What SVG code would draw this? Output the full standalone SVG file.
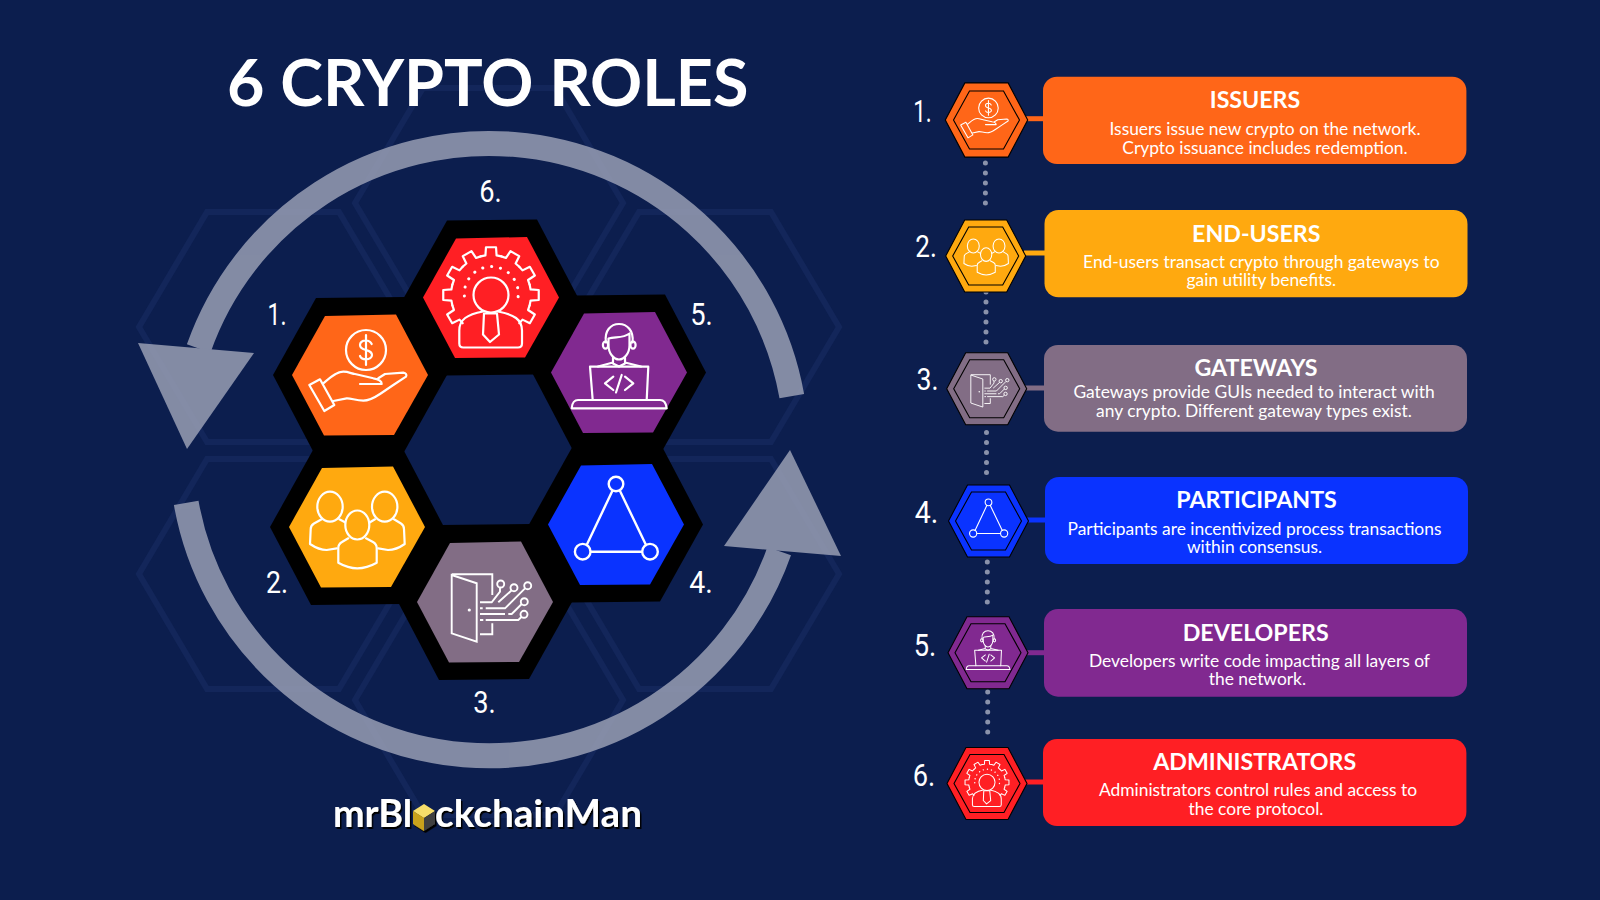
<svg xmlns="http://www.w3.org/2000/svg" xmlns:xlink="http://www.w3.org/1999/xlink" width="1600" height="900" viewBox="0 0 1600 900">
<style>
text{font-family:"Lato","Liberation Sans",sans-serif;fill:#fff}
.title{font-size:64.6px;font-weight:700}
.h{font-size:23.2px;font-weight:700;text-anchor:middle}
.b{font-size:17.4px;text-anchor:middle}
.n{font-family:"Roboto","Liberation Sans",sans-serif;font-size:32px;text-anchor:middle}
.logo{font-size:38px;font-weight:700}
.ic{fill:none;stroke:#fff;stroke-width:2.2;stroke-linecap:round;stroke-linejoin:round}
.bg{fill:none;stroke:#13265A;stroke-width:6}
.dots{fill:none;stroke:#8A92AB;stroke-width:5;stroke-linecap:round;stroke-dasharray:0 10}
.stub{stroke-width:5;fill:none}
.ol{stroke:#000;stroke-width:1.1}
</style>
<defs>
<polygon id="bg-hex" points="-134 0 -66 -115 66 -115 134 0 66 115 -66 115"/>
<polygon id="hex-o" points="-87 0 -44 -77 46 -78 87 0 44 77 -46 78"/>
<polygon id="hex-i" points="-68 0 -35 -59 36 -60.5 68 0 34 60 -36 60.5"/>
<polygon id="hex-s" points="-40 0 -21 -36 21 -36 40 0 21 36 -21 36"/>
<polygon id="hex-si" points="-33 0 -17 -29 17 -29 33 0 17 29 -17 29"/>
<filter id="sh" x="-5%" y="-20%" width="110%" height="140%"><feDropShadow dx="1.5" dy="2" stdDeviation="0.4" flood-color="#000"/></filter>
<g id="i-hand" class="ic">
<circle cx="6" cy="-25" r="20"/>
<path d="M11.7 -31C10 -34.3 8 -34.5 6 -34.5C2 -34.5 0 -32.5 0 -30C0 -26.5 3 -25.7 6 -25C9 -24.2 12 -23.5 12 -20C12 -17.5 9.5 -15.7 6 -15.7C3 -15.7 1 -16.5 0 -19M6 -40V-10"/>
<path d="M-50.7 10L-40 4.3L-25.7 30L-35.7 36Z"/>
<path d="M-36.7 8.3C-30 3 -24 -3.3 -16.7 -3.3C-11 -3.3 -8 -1 -5 -1L13.3 3.3C18 4 21.7 6 21.7 9H0M18.3 3.3L25 -1L43.3 -2.3C46 -2 47 0 46 1.7L33.3 10L20 19C14 23 9 25.7 3.3 25.7C-4 25.7 -9 23 -13.3 23.3L-26.7 26"/>
</g>
<g id="i-people" class="ic">
<ellipse cx="-27" cy="-20.3" rx="12.7" ry="15"/>
<ellipse cx="27.7" cy="-20.3" rx="12.7" ry="15"/>
<ellipse cx="0.3" cy="-2" rx="12" ry="14.5"/>
<path d="M-35.3 -7.7L-43 -3.5C-45.5 -2 -46.3 0 -46.3 2L-47 17C-41 21 -35 23 -30.3 23L-20.3 21.3M-17.7 -7.7L-12 -4.7"/>
<path d="M18 -7.7L13 -4.7M37 -7.7L44 -3.5C46.5 -2 47 0 47 2L47.7 17C42 21 36 23 31 23L21.3 21.3"/>
<path d="M-8.7 11.3L-15 15C-17.7 16.5 -18.7 18 -18.7 21V35.7C-12 39.5 -6 41.3 0.3 41.3C7 41.3 13 39.5 19.7 35.7V21C19.7 18 18.7 16.5 16 15L9 11.3"/>
</g>
<g id="i-door" class="ic" style="stroke-width:1.9;stroke-linecap:butt;stroke-linejoin:miter">
<path d="M-33.3 -27L-8.3 -18.7V39.7L-33.3 31.3Z"/>
<path d="M-33.3 -27.7H7.3V-7M-5 32.3H7.3V21.3"/>
<circle cx="-15.7" cy="8" r="1.6" fill="#fff" stroke="none"/>
<circle cx="15.7" cy="-18" r="3.5"/><circle cx="29" cy="-14.3" r="3.5"/><circle cx="42.7" cy="-16.3" r="3.5"/><circle cx="39.3" cy="-0.3" r="3.5"/><circle cx="39" cy="12.3" r="3.5"/>
<path d="M-5 0.3H6.7L15 -10.3V-14.5M13.3 0.3L26.7 -11.7M0.7 6.3H20L40 -13.7M-5 6.3H-2.3M-5 12H20M23.3 12H26.7L36.7 2M-5 18H-1.7M0.7 18H33.3L36.7 14.7"/>
</g>
<g id="i-tri" class="ic" style="stroke-width:2.4">
<circle cx="0" cy="-40.5" r="7.3"/><circle cx="-33.3" cy="27.2" r="7.8"/><circle cx="34" cy="27.2" r="7.8"/>
<path d="M-3.7 -33.5L-29.3 20.5M4 -33.5L30 20.5M-25 27.2H25.7"/>
</g>
<g id="i-dev" class="ic">
<path d="M-13 -30C-15 -42 -8 -48.5 0 -48.5C8 -48.5 15 -42 13.5 -30"/>
<path d="M-10.5 -34C-4 -36 4 -34 10.5 -39V-27C10.5 -19 5 -13 0 -13C-5 -13 -10.5 -19 -10.5 -27Z"/>
<ellipse cx="-13.5" cy="-27.5" rx="2.6" ry="3.6"/><ellipse cx="14" cy="-27.5" rx="2.6" ry="3.6"/>
<path d="M-6 -15V-9L0 -6L6 -9V-15M-21 -6L-6 -10M6 -10L22 -6"/>
<path d="M-26.3 27.5L-29 -5.8H29.3L27.7 27.5"/>
<path d="M-5.7 4.2L-14 10.8L-5.7 17.5M6 4.2L14.3 10.8L6 17.5M2.7 2.5L-3 20"/>
<path d="M-47.3 35.8C-47 30 -44 27.5 -41 27.5H41C44 27.5 47 30 47.7 35.8Z"/>
</g>
<path id="tooth" d="M-10.35 -38.64L-5.57 -39.6L-5.02 -47.74L5.02 -47.74L5.57 -39.6L10.35 -38.64"/>
<g id="i-admin" class="ic">
<circle cx="0" cy="-2.5" r="17.5"/>
<g transform="translate(0,-2.5)">
<use href="#tooth" transform="rotate(-120)"/><use href="#tooth" transform="rotate(-90)"/><use href="#tooth" transform="rotate(-60)"/><use href="#tooth" transform="rotate(-30)"/><use href="#tooth"/><use href="#tooth" transform="rotate(30)"/><use href="#tooth" transform="rotate(60)"/><use href="#tooth" transform="rotate(90)"/><use href="#tooth" transform="rotate(120)"/>
</g>
<path d="M-26.6 -1.5A27 27 0 1 1 26.4 3" style="stroke-dasharray:0.1 8.9;stroke-width:3"/>
<path d="M-8 14C-24 17 -31.7 22 -31.7 33V46Q-31.7 50 -27.7 50H27Q31 50 31 46V33C31 22 23 17 7 14"/>
<path d="M-7 16H6L8 37L-1 44.5L-8 37Z"/>
</g>
</defs>
<rect width="1600" height="900" fill="#0C1E4E"/>
<g id="backdrop" class="bg">
<use href="#bg-hex" x="273" y="327"/><use href="#bg-hex" x="705" y="327"/>
<use href="#bg-hex" x="273" y="574"/><use href="#bg-hex" x="705" y="574"/>
<use href="#bg-hex" x="489" y="203"/><use href="#bg-hex" x="489" y="700"/>
</g>
<text id="title" class="title" x="227" y="106">6 CRYPTO ROLES</text>
<g id="cycle-arrows" opacity="0.85" fill="#989EB4">
<path d="M791.8 396.1A307.5 306 0 0 0 198.7 348.5" fill="none" stroke="#989EB4" stroke-width="25"/>
<polygon points="138,343 254,353 187,449"/>
<path d="M186.2 502.9A307.5 306 0 0 0 779.2 551.1" fill="none" stroke="#989EB4" stroke-width="25"/>
<polygon points="724,546 790,450 841,556"/>
</g>
<g id="hex-1"><use href="#hex-o" x="360" y="375"/><use href="#hex-i" x="360" y="375" fill="#FF6618"/><use href="#i-hand" x="360" y="375"/><text class="n" x="277" y="325" textLength="19" lengthAdjust="spacingAndGlyphs">1.</text></g>
<g id="hex-2"><use href="#hex-o" x="357" y="527"/><use href="#hex-i" x="357" y="527" fill="#FFA90F"/><use href="#i-people" x="357" y="527"/><text class="n" x="277" y="593" textLength="22" lengthAdjust="spacingAndGlyphs">2.</text></g>
<g id="hex-3"><use href="#hex-o" x="485" y="602"/><use href="#hex-i" x="485" y="602" fill="#826D85"/><use href="#i-door" x="485" y="602"/><text class="n" x="484.5" y="713" textLength="22.5" lengthAdjust="spacingAndGlyphs">3.</text></g>
<g id="hex-4"><use href="#hex-o" x="616" y="524.5"/><use href="#hex-i" x="616" y="524.5" fill="#0A33FF"/><use href="#i-tri" x="616" y="524.5"/><text class="n" x="701" y="593" textLength="23.5" lengthAdjust="spacingAndGlyphs">4.</text></g>
<g id="hex-5"><use href="#hex-o" x="619" y="372.5"/><use href="#hex-i" x="619" y="372.5" fill="#812990"/><use href="#i-dev" x="619" y="372.5"/><text class="n" x="701.5" y="325" textLength="22.5" lengthAdjust="spacingAndGlyphs">5.</text></g>
<g id="hex-6"><use href="#hex-o" x="491" y="297.5"/><use href="#hex-i" x="491" y="297.5" fill="#FF1F24"/><use href="#i-admin" x="491" y="297.5"/><text class="n" x="490.5" y="202" textLength="22.5" lengthAdjust="spacingAndGlyphs">6.</text></g>
<g id="logo" filter="url(#sh)">
<text class="logo" x="333" y="826.5" textLength="79" lengthAdjust="spacingAndGlyphs">mrBl</text>
<polygon points="424,804 435,811 424,818 413,811" fill="#F7DE6A"/>
<polygon points="413,811 424,818 424,831 413,824" fill="#C9A21E"/>
<polygon points="435,811 424,818 424,831 435,824" fill="#3F3F3F"/>
<text class="logo" x="435" y="826.5" textLength="207" lengthAdjust="spacingAndGlyphs">ckchainMan</text>
</g>
<g id="connectors">
<path class="dots" d="M985.4 163V213"/><path class="dots" d="M986 292V352"/><path class="dots" d="M986.5 432.5V482.5"/><path class="dots" d="M987.3 562V612"/><path class="dots" d="M987.7 692V742"/>
<path class="stub" stroke="#FF6618" d="M1026 118.7H1045"/>
<path class="stub" stroke="#FFA90F" d="M1024 253H1046"/>
<path class="stub" stroke="#826D85" d="M1024 388H1046"/>
<path class="stub" stroke="#0A33FF" d="M1026 520H1047"/>
<path class="stub" stroke="#812990" d="M1025 652.7H1046"/>
<path class="stub" stroke="#FF1F24" d="M1023 782H1045"/>
</g>
<g id="issuers">
<use href="#hex-s" class="ol" fill="#FF6618" transform="translate(986.5,120) scale(1.03)"/><use href="#hex-si" class="ol" fill="#FF6618" transform="translate(986.5,120)"/>
<use href="#i-hand" transform="translate(985.5,120.2) scale(0.49)"/>
<text class="n" x="922.5" y="122" textLength="18.5" lengthAdjust="spacingAndGlyphs">1.</text>
<rect x="1043" y="76.7" width="423.4" height="87.3" rx="14" fill="#FF6618"/>
<text class="h" x="1255" y="108">ISSUERS</text>
<text class="b" x="1265" y="135">Issuers issue new crypto on the network.</text>
<text class="b" x="1265" y="154">Crypto issuance includes redemption.</text>
</g>
<g id="end-users">
<use href="#hex-s" class="ol" fill="#FFA90F" transform="translate(985.7,256)"/><use href="#hex-si" class="ol" fill="#FFA90F" transform="translate(985.7,256)"/>
<use href="#i-people" transform="translate(986,255.5) scale(0.47)"/>
<text class="n" x="926" y="257" textLength="21.5" lengthAdjust="spacingAndGlyphs">2.</text>
<rect x="1044.5" y="210" width="423" height="87.3" rx="14" fill="#FFA90F"/>
<text class="h" x="1256.3" y="241.7">END-USERS</text>
<text class="b" x="1261.3" y="268.3">End-users transact crypto through gateways to</text>
<text class="b" x="1261.3" y="286">gain utility benefits.</text>
</g>
<g id="gateways">
<use href="#hex-s" class="ol" fill="#826D85" transform="translate(986.7,388.7)"/><use href="#hex-si" class="ol" fill="#826D85" transform="translate(986.7,388.7)"/>
<use href="#i-door" transform="translate(986.8,388) scale(0.48)"/>
<text class="n" x="927.5" y="390" textLength="22" lengthAdjust="spacingAndGlyphs">3.</text>
<rect x="1044" y="345" width="423" height="86.7" rx="14" fill="#826D85"/>
<text class="h" x="1256" y="376">GATEWAYS</text>
<text class="b" x="1254" y="398.3">Gateways provide GUIs needed to interact with</text>
<text class="b" x="1254" y="416.7">any crypto. Different gateway types exist.</text>
</g>
<g id="participants">
<use href="#hex-s" class="ol" fill="#0A33FF" transform="translate(988.5,521)"/><use href="#hex-si" class="ol" fill="#0A33FF" transform="translate(988.5,521)"/>
<use href="#i-tri" transform="translate(988.5,521) scale(0.46)"/>
<text class="n" x="926.5" y="523" textLength="23.5" lengthAdjust="spacingAndGlyphs">4.</text>
<rect x="1045" y="477" width="423" height="87" rx="14" fill="#0A33FF"/>
<text class="h" x="1256.6" y="508.3">PARTICIPANTS</text>
<text class="b" x="1254.5" y="535">Participants are incentivized process transactions</text>
<text class="b" x="1254.5" y="552.7">within consensus.</text>
</g>
<g id="developers">
<use href="#hex-s" class="ol" fill="#812990" transform="translate(988,652.7)"/><use href="#hex-si" class="ol" fill="#812990" transform="translate(988,652.7)"/>
<use href="#i-dev" transform="translate(988,653) scale(0.46)"/>
<text class="n" x="925" y="656" textLength="22.5" lengthAdjust="spacingAndGlyphs">5.</text>
<rect x="1044" y="609" width="423" height="87.7" rx="14" fill="#812990"/>
<text class="h" x="1255.7" y="641">DEVELOPERS</text>
<text class="b" x="1259.4" y="667.3">Developers write code impacting all layers of</text>
<text class="b" x="1257.4" y="685">the network.</text>
</g>
<g id="administrators">
<use href="#hex-s" class="ol" fill="#FF1F24" transform="translate(987,783.5)"/><use href="#hex-si" class="ol" fill="#FF1F24" transform="translate(987,783.5)"/>
<use href="#i-admin" transform="translate(987,783.5) scale(0.46)"/>
<text class="n" x="924" y="786" textLength="22.5" lengthAdjust="spacingAndGlyphs">6.</text>
<rect x="1043" y="739" width="423.4" height="87" rx="14" fill="#FF1F24"/>
<text class="h" x="1254.7" y="770.3">ADMINISTRATORS</text>
<text class="b" x="1258" y="796">Administrators control rules and access to</text>
<text class="b" x="1256" y="815">the core protocol.</text>
</g>
</svg>
